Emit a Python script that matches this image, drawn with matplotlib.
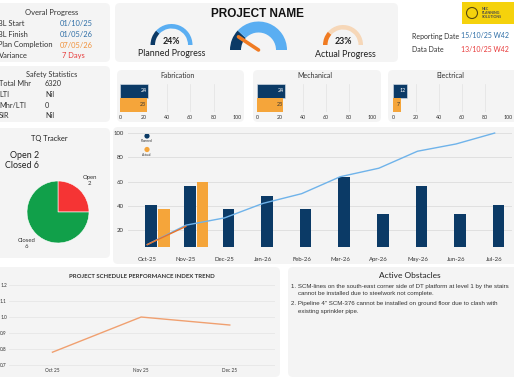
import numpy as np
import matplotlib
matplotlib.use("Agg")
import matplotlib.pyplot as plt
from matplotlib.patches import FancyBboxPatch, Wedge, Rectangle, Circle

plt.rcParams['font.family'] = ['Lato', 'DejaVu Sans']

# ---- data ----
overall_labels = ["BL Start", "BL Finish", "Plan Completion", "Variance"]
overall_values = ["01/10/25", "01/05/26", "07/05/26", "7 Days"]
safety_labels = ["Total Mhr", "LTI", "Mhr/LTI", "SIR"]
safety_values = ["6320", "Nil", "0", "Nil"]
planned_progress = 24
actual_progress = 23
disciplines = ["Fabrication", "Mechanical", "Electrical"]
disc_planned = [24, 24, 12]
disc_actual = [23, 23, 7]
tq_labels = ["Open", "Closed"]
tq_counts = [2, 6]
months = ["Oct-25", "Nov-25", "Dec-25", "Jan-26", "Feb-26", "Mar-26",
          "Apr-26", "May-26", "Jun-26", "Jul-26"]
planned_monthly = [41, 56, 37, 48, 37, 64, 33, 56, 33, 41]
actual_monthly = [37, 60]
planned_cum = [8, 24, 30, 42, 50, 64, 71, 85, 91, 100]
actual_cum = [8, 23]
spi_months = ["Oct 25", "Nov 25", "Dec 25"]
spi_values = [0.78, 1.0, 0.95]
obstacles = [
    "1. SCM-lines on the south-east corner side of DT platform at level 1 by the stairs\n"
    "    cannot be installed due to steelwork not complete.",
    "2. Pipeline 4\" SCM-376 cannot be installed on ground floor due to clash with\n"
    "    existing sprinkler pipe.",
]

NAVY = "#0b3a66"
ORANGE = "#f5a53a"
LBLUE = "#5aaef2"
PANEL = "#f4f4f4"
W, H = 514, 386

fig = plt.figure(figsize=(W / 100, H / 100), dpi=100)
fig.patch.set_facecolor("white")
bg = fig.add_axes([0, 0, 1, 1])
bg.set_xlim(0, W)
bg.set_ylim(H, 0)
bg.axis("off")


def panel(x0, y0, x1, y1):
    bg.add_patch(FancyBboxPatch((x0, y0), x1 - x0, y1 - y0,
                                boxstyle="round,pad=0,rounding_size=5",
                                fc=PANEL, ec="none"))


def box(x0, y0, x1, y1):
    return fig.add_axes([x0 / W, 1 - y1 / H, (x1 - x0) / W, (y1 - y0) / H])


panel(-6, 3, 110, 62)
panel(115, 3, 398, 62)
panel(-6, 66, 110, 122)
panel(117, 70, 244, 122)
panel(253, 70, 381, 122)
panel(388, 70, 520, 122)
panel(-6, 128, 110, 258)
panel(113, 127, 520, 264)
panel(-6, 267, 280, 377)
panel(288, 267, 520, 377)

# ---- overall progress ----
bg.text(52, 13, "Overal Progress", ha="center", va="center", fontsize=5.5, color="#333333")
val_colors = ["#2e6ea6", "#2e6ea6", "#f0913a", "#e83a3a"]
for i, (lab, val) in enumerate(zip(overall_labels, overall_values)):
    y = 24 + i * 10.5
    bg.text(-1.5, y, lab, ha="left", va="center", fontsize=5.4, color="#333333")
    bg.text(62 if i == 3 else 60, y, val, ha="left", va="center", fontsize=5.4, color=val_colors[i])

# ---- safety ----
bg.text(52, 75, "Safety Statistics", ha="center", va="center", fontsize=5.3, color="#333333")
for i, (lab, val) in enumerate(zip(safety_labels, safety_values)):
    y = 84 + i * 10.5
    bg.text(-1, y, lab, ha="left", va="center", fontsize=5.3, color="#333333")
    bg.text(45, y, val, ha="left", va="center", fontsize=5.3, color="#333333")

# ---- project name and gauges ----
bg.text(257, 14, "PROJECT NAME", ha="center", va="center", fontsize=8.5,
        fontweight="bold", family="Liberation Sans", color="#111111")


def gauge(cx, cy, r, w, frac, c_fill, c_rest):
    a = 180 + 180 * frac / 100
    bg.add_patch(Wedge((cx, cy), r, 180, a, width=w, fc=c_fill, ec="none"))
    bg.add_patch(Wedge((cx, cy), r, a, 360, width=w, fc=c_rest, ec="none"))
    return a


gauge(171.5, 45, 21, 4.5, planned_progress, NAVY, LBLUE)
bg.text(171.5, 41, f"{planned_progress}%", ha="center", va="center", fontsize=6.3,
        fontweight="bold", color="#222222")
bg.text(171.5, 53, "Planned Progress", ha="center", va="center", fontsize=6.4, color="#222222")

gauge(343, 45, 20, 4.5, actual_progress, "#f07b22", "#f6d7b8")
bg.text(343, 41, f"{actual_progress}%", ha="center", va="center", fontsize=6.3,
        fontweight="bold", color="#222222")
bg.text(345, 54.5, "Actual Progress", ha="center", va="center", fontsize=6.4, color="#222222")

gauge(258.5, 50, 28.5, 11, planned_progress, NAVY, LBLUE)
ang = np.deg2rad(180 + 180 * actual_progress / 100 - 8)
bg.plot([258.5, 258.5 + 24 * np.cos(ang)], [50, 50 + 24 * np.sin(ang)],
        color="#f07b22", lw=2.6, solid_capstyle="round")

# ---- logo and dates ----
bg.add_patch(Rectangle((462, 2), 60, 22, fc="#f5d20c", ec="none"))
bg.add_patch(Circle((472, 13), 5.5, fc="none", ec="#5a4a10", lw=0.8))
bg.text(482, 13, "NEC\nPLANNING\nSOLUTIONS", ha="left", va="center", fontsize=2.6,
        fontweight="bold", color="#4a4a4a", linespacing=0.9)
bg.text(412, 36, "Reporting Date", ha="left", va="center", fontsize=5.0, color="#333333")
bg.text(461, 36, "15/10/25 W42", ha="left", va="center", fontsize=5.0, color="#2e6ea6")
bg.text(412, 50, "Data Date", ha="left", va="center", fontsize=5.0, color="#333333")
bg.text(461, 50, "13/10/25 W42", ha="left", va="center", fontsize=5.0, color="#e83a3a")

# ---- discipline bars ----
disc_boxes = [(120, 237, 178), (257, 372, 315), (393, 508, 450)]
for name, p, a, (x0, x1, tx) in zip(disciplines, disc_planned, disc_actual, disc_boxes):
    bg.text(tx, 76, name, ha="center", va="center", fontsize=5.0, color="#333333")
    ax = box(x0, 84, x1, 112)
    ax.set_facecolor("none")
    ax.barh([1], [p], height=1, color=NAVY, edgecolor="#dfe6ee", lw=0.4)
    ax.barh([0], [a], height=1, color=ORANGE)
    ax.text(p - 1, 1, str(p), ha="right", va="center", fontsize=3.8, color="white")
    ax.text(a - 1, 0, str(a), ha="right", va="center", fontsize=3.8, color="#333333")
    ax.set_xlim(0, 100)
    ax.set_ylim(-0.5, 1.5)
    ax.set_xticks(range(0, 101, 20))
    ax.set_yticks([])
    ax.tick_params(axis="x", length=0, labelsize=3.8, pad=2, labelcolor="#333333")
    ax.grid(axis="x", color="#e2e2e2", lw=0.5)
    ax.set_axisbelow(True)
    for s in ax.spines.values():
        s.set_visible(False)

# ---- TQ tracker ----
bg.text(49, 138, "TQ Tracker", ha="center", va="center", fontsize=5.3, color="#222222")
bg.text(10, 155, f"Open {tq_counts[0]}", ha="left", va="center", fontsize=6.4, color="#222222")
bg.text(5, 166, f"Closed {tq_counts[1]}", ha="left", va="center", fontsize=6.4, color="#222222")
axp = box(27, 181, 89, 243)
axp.pie(tq_counts, labels=[f"{l}\n{c}" for l, c in zip(tq_labels, tq_counts)],
        colors=["#f53434", "#11a04a"], startangle=90, counterclock=False,
        labeldistance=1.45, textprops=dict(fontsize=4.3, color="#333333", ha="center"),
        wedgeprops=dict(lw=0.4, ec="white"))
axp.set_xlim(-1, 1)
axp.set_ylim(-1, 1)
axp.set_aspect("equal")

# ---- main chart ----
ax = box(128, 127, 512, 247)
ax.set_facecolor("none")
x = np.arange(len(months))
ax.bar(x + 0.1, planned_monthly, 0.3, color=NAVY, zorder=2)
ax.bar(np.arange(len(actual_monthly)) + 0.43, actual_monthly, 0.3, color=ORANGE, zorder=2)
ax.plot(x, planned_cum, color="#6fb3ea", lw=1, zorder=3)
ax.plot(np.arange(len(actual_cum)), actual_cum, color="#e8732a", lw=1, zorder=4)
ax.set_ylim(6, 105)
ax.set_xlim(-0.5, 9.45)
ax.set_yticks([20, 40, 60, 80, 100])
ax.set_xticks(x)
ax.set_xticklabels(months)
ax.tick_params(length=0, labelsize=4.3, labelcolor="#333333")
ax.tick_params(axis="x", pad=7)
ax.tick_params(axis="y", pad=3)
ax.grid(axis="y", color="#e0e0e0", lw=0.7)
ax.set_axisbelow(True)
for s in ax.spines.values():
    s.set_visible(False)
bg.add_patch(Circle((147, 136), 2.6, fc=NAVY, ec="none"))
bg.text(147, 141, "Planned", ha="center", va="center", fontsize=2.4, color="#333333")
bg.add_patch(Circle((147, 149.5), 2.6, fc=ORANGE, ec="none"))
bg.text(147, 155, "Actual", ha="center", va="center", fontsize=2.4, color="#333333")

# ---- SPI trend ----
bg.text(142, 277, "PROJECT SCHEDULE PERFORMANCE INDEX TREND", ha="center", va="center",
        fontsize=4.3, fontweight="bold", color="#333333")
ax = box(9, 282, 275, 367)
ax.set_facecolor("none")
ax.plot(range(len(spi_values)), spi_values, color="#f0a070", lw=1)
ax.set_xlim(-0.49, 2.51)
ax.set_ylim(0.6875, 1.219)
ax.set_yticks([0.7, 0.8, 0.9, 1.0, 1.1, 1.2])
ax.set_yticklabels([f"{v:.1f}" for v in [0.7, 0.8, 0.9, 1.0, 1.1, 1.2]])
ax.set_xticks(range(len(spi_months)))
ax.set_xticklabels(spi_months)
ax.tick_params(length=0, labelsize=3.4, labelcolor="#333333")
ax.tick_params(axis="y", pad=1.5)
ax.tick_params(axis="x", pad=1)
ax.grid(axis="y", color="#e4e4e4", lw=0.5)
for s in ax.spines.values():
    s.set_visible(False)

# ---- active obstacles ----
bg.text(410, 276, "Active Obstacles", ha="center", va="center", fontsize=6.0, color="#222222")
for i, t in enumerate(obstacles):
    bg.text(291, 284 + i * 17.5, t, ha="left", va="top", fontsize=4.4,
            family="Liberation Sans", color="#333333", linespacing=1.5)

fig.savefig("out.png", dpi=100, facecolor="white")
